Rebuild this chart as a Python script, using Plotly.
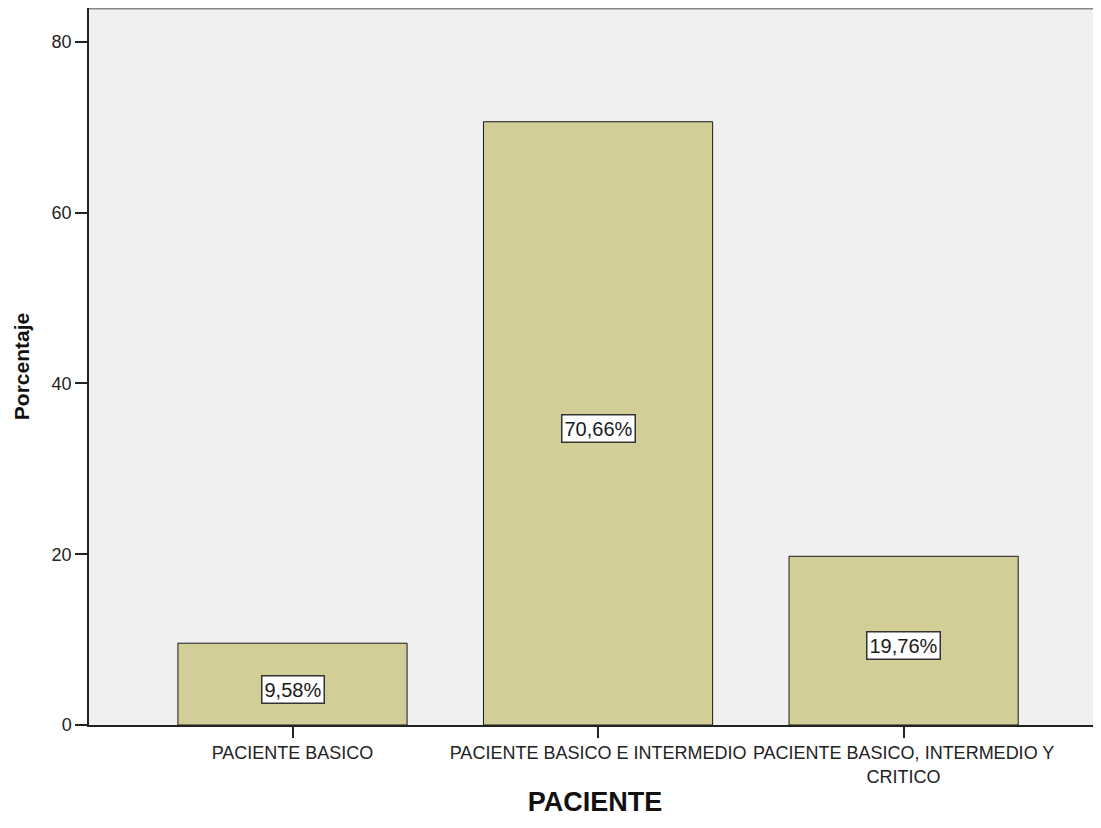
import plotly.graph_objects as go

categories = ["PACIENTE BASICO", "PACIENTE BASICO E INTERMEDIO", "PACIENTE BASICO, INTERMEDIO Y<br>CRITICO"]
values = [9.58, 70.66, 19.76]
value_labels = ["9,58%", "70,66%", "19,76%"]
y_ticks = [0, 20, 40, 60, 80]

x_pos = list(range(len(categories)))

fig = go.Figure()
fig.add_trace(go.Bar(
    x=x_pos, y=values, width=0.75,
    marker=dict(color="#d3ce97", line=dict(color="#1a1a1a", width=1)),
    hoverinfo="skip",
))

for xi, v, lab in zip(x_pos, values, value_labels):
    fig.add_annotation(
        x=xi, y=v / 2, text=lab, showarrow=False, yshift=-5,
        font=dict(family="Liberation Sans, Arial", size=20, color="#1a1a1a"),
        bgcolor="white", bordercolor="#333333", borderwidth=1.5, borderpad=2,
    )

fig.add_shape(type="line", xref="paper", yref="paper", x0=0, x1=1, y0=1, y1=1,
              line=dict(color="#888888", width=3))

fig.update_layout(
    width=1101, height=828,
    margin=dict(l=81, r=8, t=0, b=111),
    plot_bgcolor="#f0f0f0", paper_bgcolor="white",
    showlegend=False,
    font=dict(family="Liberation Sans, Arial", color="#222222"),
    xaxis=dict(
        range=[-0.666, 2.646], tickvals=x_pos, ticktext=categories,
        ticks="outside", ticklen=11, tickwidth=1.5, tickcolor="#222222",
        showline=True, linecolor="#222222", linewidth=1.5,
        showgrid=False, zeroline=False,
        tickfont=dict(size=18, color="#222222"),
        title=dict(text="<b>PACIENTE</b>", font=dict(size=27, color="#111111"), standoff=6),
        tickangle=0, automargin=False,
    ),
    yaxis=dict(
        range=[0, 83.98], tickvals=y_ticks,
        ticks="outside", ticklen=12, tickwidth=1.5, tickcolor="#222222",
        showline=True, linecolor="#222222", linewidth=1.5,
        showgrid=False, zeroline=False,
        tickfont=dict(size=18, color="#222222"),
        title=dict(text="<b>Porcentaje</b>", font=dict(size=21, color="#111111"), standoff=16),
        automargin=False,
    ),
)

fig.write_html("out.html")
